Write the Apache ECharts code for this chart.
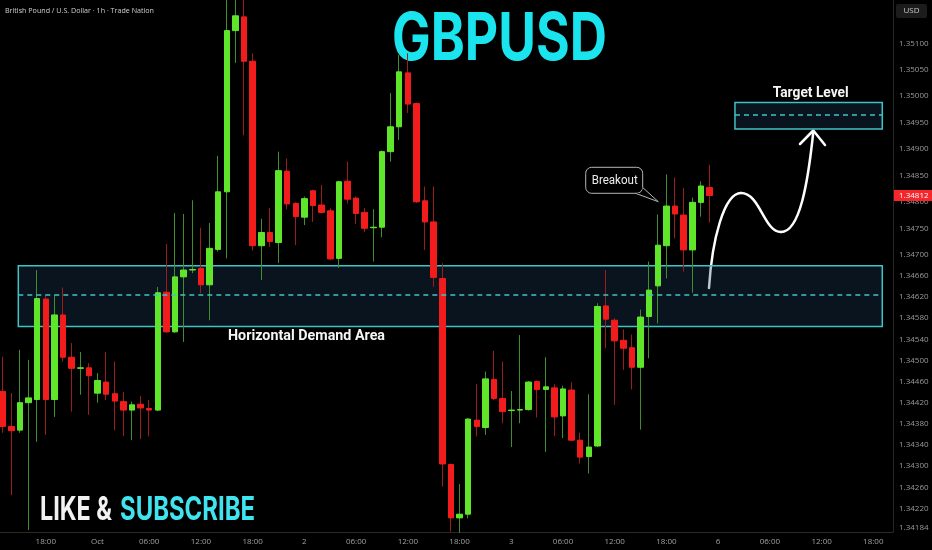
<!DOCTYPE html>
<html><head><meta charset="utf-8">
<script src="https://cdn.jsdelivr.net/npm/echarts@6/dist/echarts.min.js"></script>
<style>html,body{margin:0;padding:0;background:#000;}#c{width:932px;height:550px;}</style>
</head><body><div id="c"></div>
<script>
// ---- data (GBPUSD 1h) ----
const open = [
1.34441,1.34375,1.34368,1.34420,1.34426,1.34616,1.34426,1.34586,1.34506,1.34485,
1.34486,1.34438,1.34459,1.34437,1.34422,1.34406,1.34417,1.34409,1.34406,1.34629,
1.34554,1.34658,1.34671,1.34674,1.34643,1.34710,1.34819,1.35124,1.35150,1.35066,
1.34717,1.34742,1.34723,1.34858,1.34797,1.34771,1.34821,1.34794,1.34783,1.34693,
1.34839,1.34807,1.34780,1.34751,1.34752,1.34895,1.34942,1.35044,1.34986,1.34802,
1.34762,1.34655,1.34303,1.34202,1.34209,1.34387,1.34373,1.34464,1.34428,1.34405,
1.34406,1.34407,1.34460,1.34445,1.34448,1.34395,1.34444,1.34349,1.34318,1.34338,
1.34603,1.34576,1.34538,1.34524,1.34487,1.34583,1.34641,1.34717,1.34792,1.34775,
1.34709,1.34799,1.34827];
const close = [
1.34375,1.34367,1.34420,1.34429,1.34617,1.34426,1.34586,1.34506,1.34485,1.34486,
1.34471,1.34462,1.34436,1.34423,1.34406,1.34416,1.34410,1.34406,1.34628,1.34554,
1.34658,1.34671,1.34672,1.34643,1.34712,1.34819,1.35124,1.35152,1.35066,1.34717,
1.34742,1.34725,1.34859,1.34796,1.34772,1.34806,1.34793,1.34780,1.34692,1.34838,
1.34805,1.34778,1.34750,1.34752,1.34895,1.34942,1.35046,1.34985,1.34800,1.34762,
1.34657,1.34304,1.34202,1.34209,1.34389,1.34375,1.34465,1.34428,1.34403,1.34406,
1.34407,1.34459,1.34445,1.34450,1.34393,1.34446,1.34349,1.34317,1.34336,1.34602,
1.34578,1.34537,1.34523,1.34487,1.34582,1.34633,1.34718,1.34792,1.34777,1.34709,
1.34799,1.34830,1.34812];
const low = [
1.34363,1.34245,1.34363,1.34179,1.34346,1.34359,1.34393,1.34498,1.34403,1.34435,
1.34397,1.34420,1.34425,1.34368,1.34357,1.34349,1.34351,1.34356,1.34404,1.34552,
1.34552,1.34535,1.34665,1.34627,1.34576,1.34706,1.34693,1.35063,1.34926,1.34708,
1.34652,1.34715,1.34684,1.34786,1.34718,1.34756,1.34762,1.34778,1.34690,1.34675,
1.34797,1.34758,1.34743,1.34687,1.34733,1.34876,1.34917,1.34968,1.34798,1.34709,
1.34639,1.34261,1.34176,1.34174,1.34201,1.34356,1.34359,1.34425,1.34381,1.34336,
1.34381,1.34405,1.34392,1.34327,1.34357,1.34353,1.34347,1.34305,1.34286,1.34336,
1.34523,1.34416,1.34482,1.34445,1.34369,1.34504,1.34570,1.34655,1.34731,1.34668,
1.34628,1.34772,1.34761];
const high = [
1.34507,1.34438,1.34520,1.34501,1.34671,1.34624,1.34624,1.34638,1.34533,1.34516,
1.34495,1.34476,1.34516,1.34498,1.34440,1.34422,1.34433,1.34425,1.34639,1.34720,
1.34779,1.34777,1.34803,1.34751,1.34760,1.34887,1.35195,1.35200,1.35190,1.35081,
1.34768,1.34788,1.34895,1.34882,1.34799,1.34810,1.34823,1.34832,1.34788,1.34840,
1.34876,1.34810,1.34788,1.34786,1.34897,1.35006,1.35078,1.35081,1.34988,1.34829,
1.34829,1.34684,1.34305,1.34266,1.34391,1.34455,1.34479,1.34518,1.34498,1.34442,
1.34548,1.34461,1.34462,1.34506,1.34455,1.34452,1.34459,1.34363,1.34436,1.34608,
1.34671,1.34580,1.34559,1.34549,1.34596,1.34687,1.34776,1.34852,1.34846,1.34826,
1.34808,1.34839,1.34870];
const timeTickIndex = [5,11,17,23,29,35,41,47,53,59,65,71,77,83,89,95,101];
const timeTickLabels = ['18:00','Oct','06:00','12:00','18:00','2','06:00','12:00','18:00','3','06:00','12:00','18:00','6','06:00','12:00','18:00'];
const priceTicks = [1.35100,1.35050,1.35000,1.34950,1.34900,1.34850,1.34800,1.34750,1.34700,
  1.34660,1.34620,1.34580,1.34540,1.34500,1.34460,1.34420,1.34380,1.34340,1.34300,1.34260,1.34220,1.34184];
const demandZone = [1.34679, 1.34624, 1.34564]; // top, mid, bottom
const targetZone = [1.34988, 1.34964, 1.34938];

// ---- build ----
const full = open.map((o,i)=>[i, o, close[i], low[i], high[i]]);
const bodies = open.map((o,i)=>[i, o, close[i], Math.min(o,close[i]), Math.max(o,close[i])]);
const lastClose = close[close.length-1];

const UP='#5fe62b', DOWN='#f21c1c', UPW='#3f8f2c', DOWNW='#9a1e1e', ZONE='#3fc3c7';

const cv = document.createElement('canvas').getContext('2d');
function fit(text, font, w){ cv.font = font; return w / cv.measureText(text).width; }

const chart = echarts.init(document.getElementById('c'), null, {renderer:'canvas'});
const titleFont = 'bold 66px Inter';
const likeFont = 'bold 32px Inter';
const hdaFont = 'bold 14px Roboto';
const tlFont = 'bold 14px Roboto';
const boFont = '12px Roboto';
const topFont = '8px "Open Sans"';
const W = {stroke:'#fff', lineWidth:2.5, fill:null, lineCap:'round'};

const graphics = [
    {type:'text', x:5, y:10.5, scaleX:fit('British Pound / U.S. Dollar · 1h · Trade Nation', topFont, 149),
      style:{text:'British Pound / U.S. Dollar · 1h · Trade Nation', font:topFont, fill:'#cfcfcf', textVerticalAlign:'middle'}},
    {type:'rect', shape:{x:896, y:4, width:31, height:14, r:2}, style:{fill:'#1c1c1c'}},
    {type:'text', x:911.5, y:11, style:{text:'USD', font:'8px "Open Sans"', fill:'#c8c8c8', textAlign:'center', textVerticalAlign:'middle'}},
    {type:'text', x:499.5, y:40, scaleX:fit('GBPUSD', titleFont, 215),
      style:{text:'GBPUSD', font:titleFont, fill:'#1ae4ee', textAlign:'center', textVerticalAlign:'middle',
        shadowBlur:18, shadowColor:'rgba(230,255,255,0.9)'}},
    {type:'text', x:40, y:510, scaleX:fit('LIKE &', likeFont, 72),
      style:{text:'LIKE &', font:likeFont, fill:'#f2f2f2', textVerticalAlign:'middle', shadowBlur:10, shadowColor:'rgba(255,255,255,0.8)'}},
    {type:'text', x:120, y:510, scaleX:fit('SUBSCRIBE', likeFont, 135),
      style:{text:'SUBSCRIBE', font:likeFont, fill:'#3fe4ee', textVerticalAlign:'middle', shadowBlur:10, shadowColor:'rgba(200,255,255,0.8)'}},
    {type:'text', x:228, y:336.5, scaleX:fit('Horizontal Demand Area', hdaFont, 157),
      style:{text:'Horizontal Demand Area', font:hdaFont, fill:'#f5f5f5', textVerticalAlign:'middle'}},
    {type:'text', x:772.7, y:93, scaleX:fit('Target Level', tlFont, 76),
      style:{text:'Target Level', font:tlFont, fill:'#f5f5f5', textVerticalAlign:'middle'}},
    {type:'rect', shape:{x:585.7, y:167.3, width:57, height:26, r:6}, style:{fill:'#000', stroke:'#b5b5b5', lineWidth:1}},
    {type:'polygon', shape:{points:[[635.5,193.3],[658.3,201.7],[642.7,187.5],[642.2,192.8]]}, style:{fill:'#000', stroke:null}},
    {type:'polyline', shape:{points:[[635.5,193.3],[658.3,201.7],[642.7,187.5]]}, style:{fill:null, stroke:'#b5b5b5', lineWidth:1}},
    {type:'text', x:591.7, y:181, scaleX:fit('Breakout', boFont, 46),
      style:{text:'Breakout', font:boFont, fill:'#ececec', textVerticalAlign:'middle'}},
    {type:'bezierCurve', shape:{x1:709,y1:288, cpx1:712,cpy1:240, cpx2:724,cpy2:193, x2:741,y2:193}, style:W},
    {type:'bezierCurve', shape:{x1:741,y1:193, cpx1:760,cpy1:193, cpx2:764,cpy2:232, x2:781,y2:232}, style:W},
    {type:'bezierCurve', shape:{x1:781,y1:232, cpx1:800,cpy1:232, cpx2:808,cpy2:182, x2:813.3,y2:132}, style:W},
    {type:'polyline', shape:{points:[[800,144],[813.3,130.5],[825,145]]}, style:{stroke:'#fff', lineWidth:2.5, fill:null, lineCap:'round', lineJoin:'round'}}
];

chart.setOption({
  animation:false,
  backgroundColor:'#000',
  grid:{left:0,right:39,top:0,bottom:18},
  xAxis:{type:'value', min:-0.3132, max:103.283,
    axisLine:{show:true, onZero:false, lineStyle:{color:'#2a2a2a'}},
    axisTick:{show:false}, splitLine:{show:false},
    axisLabel:{customValues:timeTickIndex, color:'#a0a0a0', fontSize:8, margin:6, fontFamily:'Open Sans',
      formatter:(v)=>{const k=timeTickIndex.indexOf(Math.round(v)); return k<0?'':timeTickLabels[k];}}
  },
  yAxis:{type:'value', position:'right', min:1.341753, max:1.351819,
    axisLine:{show:true, onZero:false, lineStyle:{color:'#262626'}},
    axisTick:{show:false}, splitLine:{show:false},
    axisLabel:{customValues:priceTicks, color:'#9a9a9a', fontSize:8, margin:6, fontFamily:'Open Sans',
      formatter:(v)=>v.toFixed(5)}
  },
  series:[
    {type:'line', data:[], z:1, silent:true,
      markArea:{silent:true, label:{show:false},
        itemStyle:{color:'rgba(30,66,100,0.30)', borderColor:ZONE, borderWidth:1.5},
        data:[
          [{xAxis:1.81, yAxis:demandZone[0]},{xAxis:102.04, yAxis:demandZone[2]}],
          [{xAxis:84.95, yAxis:targetZone[0]},{xAxis:102.04, yAxis:targetZone[2]}]
        ]},
      markLine:{silent:true, symbol:['none','none'], label:{show:false},
        lineStyle:{color:ZONE, width:1.5, type:[5,4]},
        data:[
          [{coord:[1.81, demandZone[1]]},{coord:[102.04, demandZone[1]]}],
          [{coord:[84.95, targetZone[1]]},{coord:[102.04, targetZone[1]]}]
        ]}
    },
    {type:'candlestick', z:2, barWidth:1, encode:{x:0,y:[1,2,3,4]}, data:full,
      itemStyle:{color:UPW, color0:DOWNW, borderColor:UPW, borderColor0:DOWNW, borderWidth:1}},
    {type:'candlestick', z:3, barWidth:6, encode:{x:0,y:[1,2,3,4]}, data:bodies,
      itemStyle:{color:UP, color0:DOWN, borderColor:UP, borderColor0:DOWN, borderWidth:1}}
  ],
  graphic:graphics
});

// last-price tag on the price scale, placed through the axis scale
const py = chart.convertToPixel({yAxisIndex:0}, lastClose);
graphics.push(
  {type:'rect', shape:{x:894, y:py-5.5, width:38, height:11}, style:{fill:'#f7262b'}, z:10},
  {type:'text', x:899, y:py, style:{text:lastClose.toFixed(5), font:'8px "Open Sans"', fill:'#fff', textVerticalAlign:'middle'}, z:11}
);
chart.setOption({graphic:graphics}, {replaceMerge:['graphic']});
</script></body></html>
